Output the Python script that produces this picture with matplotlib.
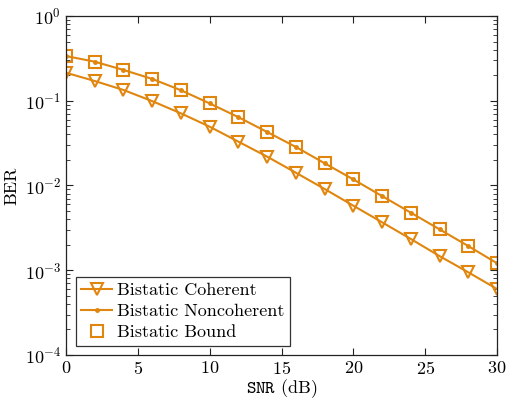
import matplotlib
matplotlib.use("Agg")
import matplotlib.pyplot as plt

plt.rcParams['font.family'] = ['cmr10', 'DejaVu Serif']
plt.rcParams['mathtext.fontset'] = 'cm'
plt.rcParams['axes.formatter.use_mathtext'] = True
plt.rcParams['axes.unicode_minus'] = False

snr = [0, 2, 4, 6, 8, 10, 12, 14, 16, 18, 20, 22, 24, 26, 28, 30]
ber_coherent = [0.214, 0.171, 0.134, 0.099, 0.071, 0.0494, 0.0329, 0.0219,
                0.01416, 0.0091, 0.00578, 0.00368, 0.00234, 0.00147, 0.000946, 0.000601]
ber_noncoherent = [0.337, 0.289, 0.231, 0.181, 0.133, 0.093, 0.064, 0.0428,
                   0.0285, 0.0183, 0.0118, 0.0075, 0.00478, 0.00304, 0.00193, 0.00121]
ber_bound = ber_noncoherent[:]

col = '#E0860E'

fig = plt.figure(figsize=(5.08, 4.0), dpi=100)
ax = fig.add_axes([66/508, 45/400, 431/508, 339/400])

ax.semilogy(snr, ber_coherent, color=col, lw=1.5, marker='v', ms=8,
            mfc='none', mec=col, mew=1.5, label='Bistatic Coherent')
ax.semilogy(snr, ber_noncoherent, color=col, lw=1.5, marker='.', ms=5,
            label='Bistatic Noncoherent')
ax.semilogy(snr, ber_bound, ls='none', color=col, marker='s', ms=8,
            mfc='none', mec=col, mew=1.5, label='Bistatic Bound')

ax.set_xlim(0, 30)
ax.set_ylim(1e-4, 1)
ax.set_xticks([0, 5, 10, 15, 20, 25, 30])
ax.tick_params(which='both', direction='in', top=True, right=True, labelsize=13,
               color='#222222')
ax.tick_params(which='major', length=5)
ax.tick_params(which='minor', length=3)
for s in ax.spines.values():
    s.set_linewidth(0.9)
    s.set_color('#222222')

ax.set_xlabel(r'$\mathtt{SNR}$ (dB)', fontsize=13, labelpad=0)
ax.set_ylabel('BER', fontsize=13, labelpad=4)

leg = ax.legend(loc='lower left', bbox_to_anchor=(0.023, 0.027), borderaxespad=0,
                fontsize=13, fancybox=False, framealpha=1,
                edgecolor='#333333', handlelength=1.7, handletextpad=0.3,
                borderpad=0.3, labelspacing=0.3)
leg.get_frame().set_linewidth(0.9)

fig.savefig('out.png', dpi=100)
